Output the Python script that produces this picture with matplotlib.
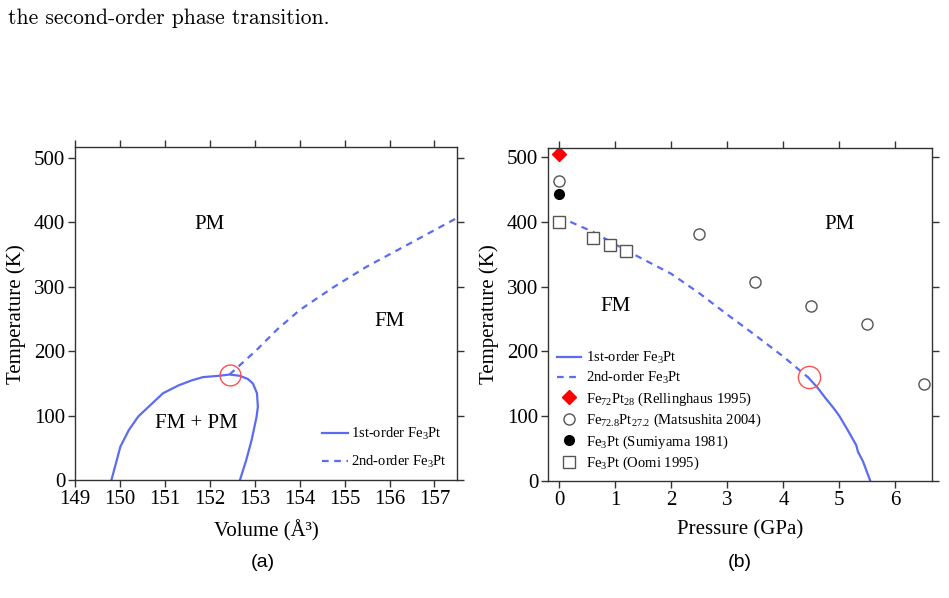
import matplotlib
matplotlib.use("Agg")
import matplotlib.pyplot as plt

plt.rcParams["font.family"] = ["Liberation Serif", "DejaVu Serif"]
plt.rcParams["mathtext.fontset"] = "custom"
plt.rcParams["mathtext.rm"] = "Liberation Serif"
plt.rcParams["mathtext.it"] = "Liberation Serif:italic"

BLUE = "#5a6cf2"
RED_C = "#ff5050"

# (a) volume vs temperature
vol_1st = [149.81, 149.93, 150.01, 150.2, 150.41, 150.7, 150.96, 151.3, 151.6,
           151.85, 152.2, 152.44, 152.67, 152.85, 152.96, 153.05, 153.07,
           153.04, 152.93, 152.81, 152.67]
temp_1st_a = [0, 31, 52, 78, 99, 118, 135, 147, 155,
              160, 162, 164, 162, 157, 150, 135, 114, 98, 62, 31, 0]
vol_2nd = [152.44, 153.04, 153.5, 154.0, 154.74, 155.48, 156.44, 157.5]
temp_2nd_a = [164, 202, 234, 264, 299, 331, 367, 407]
crit_a = (152.45, 164)

# (b) pressure vs temperature
p_2nd = [0, 0.6, 1.2, 2.0, 2.5, 3.0, 3.5, 4.0, 4.44]
t_2nd = [408, 385, 356, 320, 290, 257, 225, 192, 160]
p_1st = [4.44, 4.6, 4.75, 4.9, 5.0, 5.15, 5.3, 5.33, 5.42, 5.55]
t_1st = [160, 145, 128, 112, 100, 78, 55, 45, 30, 0]
crit_b = (4.45, 160)

p_rell, t_rell = [0], [505]
p_mats = [0, 2.5, 3.5, 4.5, 5.5, 6.5]
t_mats = [463, 381, 308, 271, 243, 150]
p_sumi, t_sumi = [0], [443]
p_oomi = [0, 0.6, 0.9, 1.2]
t_oomi = [400, 375, 365, 355]

FS = 15

fig = plt.figure(figsize=(9.49, 5.98), dpi=100)
ax1 = fig.add_axes([0.079, 0.197, 0.4025, 0.557])
ax2 = fig.add_axes([0.5774, 0.196, 0.4046, 0.557])


def style(ax):
    ax.tick_params(direction="out", length=5, width=1, labelsize=FS, pad=2,
                   top=True, right=True, labeltop=False, labelright=False,
                   color="#333333")
    for s in ax.spines.values():
        s.set_color("#333333")
        s.set_linewidth(1)


ax1.plot(vol_1st, temp_1st_a, "-", color=BLUE, lw=1.6,
         label="1st-order Fe$_{\\mathrm{3}}$Pt")
ax1.plot(vol_2nd, temp_2nd_a, "--", color=BLUE, lw=1.6, dashes=(3, 2.5),
         label="2nd-order Fe$_{\\mathrm{3}}$Pt")
ax1.plot(*crit_a, "o", ms=15, mfc="none", mec=RED_C, mew=1)
ax1.set_xlim(149, 157.5)
ax1.set_ylim(0, 517)
ax1.set_xticks(range(149, 158))
ax1.set_yticks(range(0, 501, 100))
ax1.set_xlabel("Volume (Å³)", fontsize=FS, labelpad=8)
ax1.set_ylabel("Temperature (K)", fontsize=FS, labelpad=6)
ax1.text(152.0, 397, "PM", fontsize=FS, ha="center", va="center")
ax1.text(156.0, 247, "FM", fontsize=FS, ha="center", va="center")
ax1.text(151.7, 88, "FM + PM", fontsize=FS, ha="center", va="center")
ax1.legend(loc="lower right", frameon=False, fontsize=10.5, handlelength=1.8,
           handletextpad=0.2, labelspacing=0.8, borderaxespad=0.3,
           bbox_to_anchor=(1.0, 0.0))
style(ax1)

ax2.plot(p_1st, t_1st, "-", color=BLUE, lw=1.6,
         label="1st-order Fe$_{\\mathrm{3}}$Pt")
ax2.plot(p_2nd, t_2nd, "--", color=BLUE, lw=1.6, dashes=(3, 2.5),
         label="2nd-order Fe$_{\\mathrm{3}}$Pt")
ax2.plot(p_rell, t_rell, "D", color="red", ms=7, ls="none",
         label="Fe$_{\\mathrm{72}}$Pt$_{\\mathrm{28}}$ (Rellinghaus 1995)")
ax2.plot(p_mats, t_mats, "o", mfc="white", mec="#555555", ms=8, ls="none",
         label="Fe$_{\\mathrm{72.8}}$Pt$_{\\mathrm{27.2}}$ (Matsushita 2004)")
ax2.plot(p_sumi, t_sumi, "o", color="black", ms=7, ls="none",
         label="Fe$_{\\mathrm{3}}$Pt (Sumiyama 1981)")
ax2.plot(p_oomi, t_oomi, "s", mfc="white", mec="#555555", ms=9, ls="none",
         label="Fe$_{\\mathrm{3}}$Pt (Oomi 1995)")
ax2.plot(*crit_b, "o", ms=16, mfc="none", mec=RED_C, mew=1)
ax2.set_xlim(-0.2, 6.65)
ax2.set_ylim(0, 515)
ax2.set_xticks(range(0, 7))
ax2.set_yticks(range(0, 501, 100))
ax2.set_xlabel("Pressure (GPa)", fontsize=FS, labelpad=8)
ax2.set_ylabel("Temperature (K)", fontsize=FS, labelpad=6)
ax2.text(5.0, 397, "PM", fontsize=FS, ha="center", va="center")
ax2.text(1.0, 269, "FM", fontsize=FS, ha="center", va="center")
ax2.legend(loc="lower left", frameon=False, fontsize=10.5, handlelength=1.7,
           handletextpad=0.3, labelspacing=0.28, borderaxespad=0.2,
           bbox_to_anchor=(0.0, 0.0))
style(ax2)

fig.text(0.277, 0.06, "(a)", fontsize=14, family="Liberation Sans",
         ha="center", va="center")
fig.text(0.78, 0.06, "(b)", fontsize=14, family="Liberation Sans",
         ha="center", va="center")
fig.text(0.008, 0.97, "the second-order phase transition.", fontsize=15.5,
         family="cmr10", ha="left", va="center")

fig.savefig("out.png", dpi=100)
